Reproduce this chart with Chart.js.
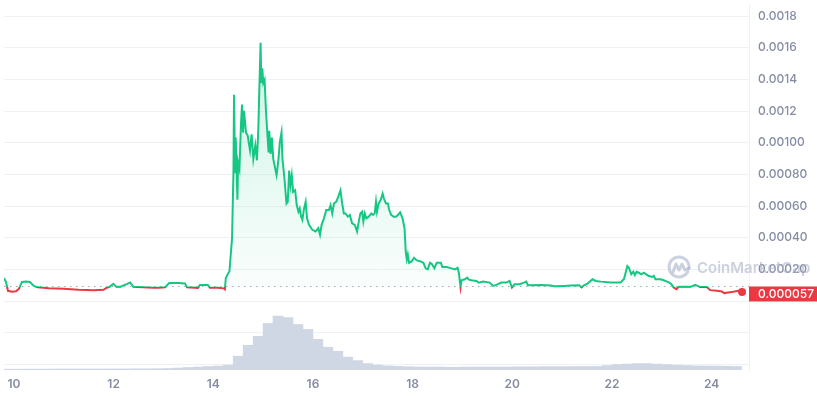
<!DOCTYPE html>
<html>
<head>
<meta charset="utf-8">
<script src="https://cdn.jsdelivr.net/npm/chart.js@4.4.0/dist/chart.umd.min.js"></script>
<style>
  html, body { margin: 0; padding: 0; background: #fff; }
  #wrap { width: 817px; height: 396px; position: relative; }
</style>
</head>
<body>
<div id="wrap"><canvas id="priceChart"></canvas></div>
<script>
// Price samples: day of month -> price in USD
const priceDays = [
  9.800, 9.840, 9.880, 9.960, 10.040, 10.100, 10.160, 10.240, 10.319, 10.399,
  10.479, 10.699, 10.998, 11.297, 11.597, 11.796, 11.856, 11.916, 11.996, 12.056,
  12.136, 12.196, 12.275, 12.335, 12.395, 12.595, 12.794, 12.894, 13.034, 13.114,
  13.293, 13.433, 13.473, 13.693, 13.733, 13.892, 13.932, 14.092, 14.212, 14.232,
  14.252, 14.325, 14.377, 14.405, 14.417, 14.437, 14.451, 14.465, 14.485, 14.497,
  14.525, 14.557, 14.577, 14.597, 14.617, 14.657, 14.691, 14.737, 14.770, 14.804,
  14.844, 14.876, 14.904, 14.924, 14.950, 14.964, 14.984, 15.004, 15.030, 15.056,
  15.084, 15.110, 15.124, 15.150, 15.176, 15.204, 15.244, 15.270, 15.309, 15.335,
  15.369, 15.389, 15.429, 15.469, 15.495, 15.523, 15.549, 15.575, 15.603, 15.643,
  15.675, 15.709, 15.735, 15.763, 15.788, 15.822, 15.854, 15.882, 15.922, 15.988,
  16.054, 16.108, 16.142, 16.174, 16.221, 16.267, 16.321, 16.353, 16.387, 16.421,
  16.467, 16.507, 16.553, 16.587, 16.621, 16.653, 16.701, 16.741, 16.786, 16.840,
  16.886, 16.920, 16.952, 16.986, 17.012, 17.040, 17.072, 17.120, 17.172, 17.206,
  17.240, 17.265, 17.285, 17.319, 17.359, 17.399, 17.425, 17.465, 17.505, 17.531,
  17.571, 17.619, 17.665, 17.705, 17.751, 17.798, 17.838, 17.864, 17.884, 17.904,
  17.930, 17.984, 18.030, 18.084, 18.150, 18.217, 18.263, 18.303, 18.349, 18.383,
  18.437, 18.483, 18.569, 18.597, 18.683, 18.782, 18.849, 18.902, 18.928, 18.962,
  18.982, 19.048, 19.096, 19.128, 19.182, 19.281, 19.327, 19.415, 19.547, 19.615,
  19.681, 19.780, 19.880, 19.946, 19.994, 20.046, 20.146, 20.234, 20.280, 20.314,
  20.579, 20.778, 20.844, 21.044, 21.177, 21.343, 21.391, 21.431, 21.511, 21.611,
  21.677, 21.777, 21.976, 22.176, 22.242, 22.310, 22.341, 22.389, 22.429, 22.461,
  22.495, 22.541, 22.589, 22.641, 22.689, 22.741, 22.808, 22.840, 22.874, 22.974,
  23.040, 23.108, 23.154, 23.194, 23.240, 23.294, 23.340, 23.573, 23.673, 23.772,
  23.906, 23.972, 24.106, 24.206, 24.251, 24.337, 24.437, 24.537, 24.611
];
const prices = [
  0.0001456, 0.0001206, 0.0000644, 0.0000581, 0.0000613, 0.0000769, 0.0001206, 0.0001238, 0.0001206, 0.0000956,
  0.0000863, 0.0000800, 0.0000769, 0.0000706, 0.0000675, 0.0000706, 0.0000831, 0.0000894, 0.0001081, 0.0000894,
  0.0000894, 0.0000988, 0.0001081, 0.0001175, 0.0000894, 0.0000863, 0.0000831, 0.0000831, 0.0000863, 0.0001144,
  0.0001144, 0.0001113, 0.0000863, 0.0000831, 0.0001019, 0.0001019, 0.0000831, 0.0000831, 0.0000800, 0.0000738,
  0.0001456, 0.0001894, 0.0003975, 0.0008144, 0.0013038, 0.0008144, 0.0010331, 0.0008581, 0.0006394, 0.0008769,
  0.0008350, 0.0011269, 0.0012413, 0.0010644, 0.0012019, 0.0010644, 0.0010456, 0.0009519, 0.0010538, 0.0008975,
  0.0009831, 0.0008894, 0.0010850, 0.0013350, 0.0016313, 0.0013769, 0.0014706, 0.0013769, 0.0013975, 0.0012100,
  0.0010644, 0.0009394, 0.0010750, 0.0009288, 0.0010331, 0.0008975, 0.0008350, 0.0007956, 0.0008975, 0.0010019,
  0.0010644, 0.0008975, 0.0007725, 0.0006163, 0.0006269, 0.0008250, 0.0007313, 0.0007938, 0.0006894, 0.0007000,
  0.0006063, 0.0005644, 0.0005850, 0.0005331, 0.0005125, 0.0005850, 0.0006269, 0.0005225, 0.0004813, 0.0004500,
  0.0004394, 0.0004600, 0.0004188, 0.0004813, 0.0005225, 0.0005750, 0.0005750, 0.0006063, 0.0005538, 0.0006163,
  0.0006269, 0.0006581, 0.0007000, 0.0006163, 0.0005538, 0.0005538, 0.0005331, 0.0005438, 0.0004913, 0.0004813,
  0.0004394, 0.0005019, 0.0005538, 0.0005644, 0.0005019, 0.0005538, 0.0005225, 0.0005331, 0.0005538, 0.0005438,
  0.0005538, 0.0006269, 0.0005644, 0.0006163, 0.0006375, 0.0006788, 0.0006475, 0.0006163, 0.0006163, 0.0005750,
  0.0005438, 0.0005331, 0.0005331, 0.0005438, 0.0005600, 0.0005225, 0.0004600, 0.0003038, 0.0002625, 0.0002938,
  0.0002413, 0.0002519, 0.0002725, 0.0002563, 0.0002519, 0.0002413, 0.0002063, 0.0002000, 0.0002413, 0.0002350,
  0.0002063, 0.0002413, 0.0002413, 0.0002144, 0.0002144, 0.0002063, 0.0002000, 0.0002100, 0.0001788, 0.0000860,
  0.0001313, 0.0001375, 0.0001475, 0.0001350, 0.0001313, 0.0001269, 0.0001163, 0.0001225, 0.0001163, 0.0000956,
  0.0001019, 0.0001163, 0.0001163, 0.0001269, 0.0000860, 0.0001063, 0.0001063, 0.0001163, 0.0001225, 0.0001000,
  0.0001019, 0.0000975, 0.0000938, 0.0000956, 0.0000975, 0.0001000, 0.0000860, 0.0000975, 0.0001100, 0.0001375,
  0.0001269, 0.0001225, 0.0001175, 0.0001175, 0.0001394, 0.0002206, 0.0002100, 0.0001688, 0.0001850, 0.0001644,
  0.0001850, 0.0001788, 0.0001688, 0.0001788, 0.0001688, 0.0001581, 0.0001519, 0.0001581, 0.0001375, 0.0001375,
  0.0001313, 0.0001225, 0.0001163, 0.0001063, 0.0000850, 0.0000750, 0.0000894, 0.0000894, 0.0001019, 0.0000880,
  0.0000880, 0.0000688, 0.0000644, 0.0000600, 0.0000500, 0.0000538, 0.0000581, 0.0000644, 0.0000570
];

// 24h volume, one bucket every 0.2 day starting at day 9.9 (relative units)
const volumeStart = 9.9;
const volumeStep = 0.2;
const volumes = [
  0.8, 0.8, 0.9, 0.9, 0.9, 1, 1, 1, 1, 1, 1.1, 1.1, 1.1, 1.2, 1.2, 1.3,
  1.5, 2, 2.5, 3, 3.5, 4, 5,
  14, 25, 34, 47, 54.5, 53, 46, 41, 31, 23, 19, 13, 9.5, 6.5, 5, 4.2, 3.7, 3.3, 3,
  3, 3, 2.8, 2.8, 3, 3, 3, 3, 3, 3.2, 3.2, 3.2, 3.4, 3.4, 3.4, 3.5, 3.5, 3.6,
  4.5, 5.5, 6, 6.5, 6.5, 6, 5.5, 5, 4.5, 4.2, 4, 4, 3.8, 3.6
];
const volumeDays = volumes.map((_, i) => +(volumeStart + i * volumeStep).toFixed(2));

const openPrice = 0.0000913;   // dotted reference line
const lastPrice = 0.000057;
const lastPriceLabel = '0.000057';

const yTickValues = [0.0002, 0.0004, 0.0006, 0.0008, 0.0010, 0.0012, 0.0014, 0.0016, 0.0018];
const yTickLabels = ['0.00020', '0.00040', '0.00060', '0.00080', '0.00100', '0.0012', '0.0014', '0.0016', '0.0018'];

const xMin = 9.8004, xMax = 24.751;
const yMin = -0.000436, yMax = 0.001877;

const green = '#16c784';
const red = '#ea3943';
const labelColor = '#858ca2';
const gridColor = '#eff2f5';
const watermarkColor = 'rgba(168,178,200,0.6)';

Chart.defaults.font.family = 'Inter, "Noto Sans", sans-serif';

function splitAtOpen(context, top, mid, below) {
    const chart = context.chart;
    const { ctx, chartArea, scales } = chart;
    if (!chartArea) return top;
    const y = scales.y.getPixelForValue(openPrice);
    let stop = (y - chartArea.top) / (chartArea.bottom - chartArea.top);
    stop = Math.min(Math.max(stop, 0), 1);
    const g = ctx.createLinearGradient(0, chartArea.top, 0, chartArea.bottom);
    g.addColorStop(0, top);
    g.addColorStop(stop, mid);
    g.addColorStop(stop, below);
    g.addColorStop(1, below);
    return g;
}

// Watermark and last price tag
const overlayPlugin = {
    id: 'overlay',
    afterDraw(chart) {
        const { ctx, chartArea, scales } = chart;
        ctx.save();

        // CoinMarketCap watermark
        const cx = chartArea.right - 70;
        const cy = chartArea.top + 263;
        ctx.strokeStyle = watermarkColor;
        ctx.lineWidth = 3;
        ctx.lineCap = 'round';
        ctx.lineJoin = 'round';
        ctx.beginPath();
        ctx.arc(cx, cy, 10, 0.15 * Math.PI, 2.05 * Math.PI);
        ctx.stroke();
        ctx.beginPath();
        ctx.moveTo(cx - 6, cy + 5);
        ctx.lineTo(cx - 3, cy - 3);
        ctx.lineTo(cx, cy + 3);
        ctx.lineTo(cx + 3, cy - 3);
        ctx.lineTo(cx + 6, cy + 3);
        ctx.lineTo(cx + 10, cy + 1);
        ctx.stroke();
        ctx.fillStyle = watermarkColor;
        ctx.font = '600 15px Inter, sans-serif';
        ctx.textBaseline = 'middle';
        ctx.textAlign = 'left';
        ctx.fillText('CoinMarketCap', cx + 18, cy + 1);

        // last price tag on the axis
        const y = scales.y.getPixelForValue(lastPrice);
        const left = chartArea.right;
        ctx.fillStyle = red;
        ctx.fillRect(left, y - 5.5, chart.width - left, 15);
        ctx.fillStyle = '#ffffff';
        ctx.font = '500 12px Inter, sans-serif';
        ctx.fillText(lastPriceLabel, left + 9, y + 2.5);
        ctx.restore();
    }
};

const ctx = document.getElementById('priceChart').getContext('2d');

const chart = new Chart(ctx, {
    data: {
        datasets: [
            {
                type: 'line',
                label: 'Price',
                data: priceDays.map((d, i) => ({ x: d, y: prices[i] })),
                yAxisID: 'y',
                borderWidth: 2,
                tension: 0,
                borderColor: c => splitAtOpen(c, green, green, red),
                backgroundColor: c => splitAtOpen(c, 'rgba(22,199,132,0.24)', 'rgba(22,199,132,0.02)', 'rgba(255,255,255,0)'),
                fill: { value: openPrice },
                pointRadius: c => (c.dataIndex === prices.length - 1 ? 4 : 0),
                pointHoverRadius: 0,
                pointBackgroundColor: red,
                pointBorderColor: red,
                pointBorderWidth: 0
            },
            {
                type: 'line',
                label: 'Open',
                data: [{ x: xMin, y: openPrice }, { x: xMax, y: openPrice }],
                yAxisID: 'y',
                borderColor: '#a1a7bb',
                borderWidth: 1,
                borderDash: [1.5, 4.5],
                pointRadius: 0,
                fill: false
            },
            {
                type: 'bar',
                label: 'Volume',
                data: volumeDays.map((d, i) => ({ x: d, y: volumes[i] })),
                yAxisID: 'yv',
                backgroundColor: '#cfd6e4',
                borderWidth: 0,
                barPercentage: 1,
                categoryPercentage: 1
            }
        ]
    },
    options: {
        responsive: true,
        maintainAspectRatio: false,
        animation: false,
        devicePixelRatio: 1,
        layout: { padding: 0 },
        plugins: {
            legend: { display: false },
            tooltip: { enabled: false }
        },
        scales: {
            x: {
                type: 'linear',
                offset: false,
                min: xMin,
                max: xMax,
                grid: { display: false, drawTicks: false, offset: false },
                border: { display: false },
                ticks: {
                    stepSize: 2,
                    includeBounds: false,
                    autoSkip: false,
                    maxRotation: 0,
                    padding: 7,
                    color: labelColor,
                    font: { size: 12, weight: '600' },
                    callback: v => String(v)
                },
                afterFit: s => {
                    s.height = 26;
                    s.paddingLeft = 0;
                    s.paddingRight = 0;
                }
            },
            y: {
                type: 'linear',
                position: 'right',
                min: yMin,
                max: yMax,
                grid: { color: gridColor, drawTicks: false },
                border: { display: true, color: gridColor },
                ticks: {
                    stepSize: 0.0002,
                    includeBounds: false,
                    padding: 9,
                    color: labelColor,
                    font: { size: 12, weight: '500' },
                    callback: v => {
                        const i = yTickValues.findIndex(t => Math.abs(t - v) < 1e-9);
                        return i >= 0 ? yTickLabels[i] : '';
                    }
                },
                afterFit: s => {
                    s.width = 68;
                    s.paddingTop = 0;
                    s.paddingBottom = 0;
                }
            },
            yv: {
                type: 'linear',
                display: false,
                min: 0,
                max: 370
            }
        }
    },
    plugins: [overlayPlugin]
});
</script>
</body>
</html>
